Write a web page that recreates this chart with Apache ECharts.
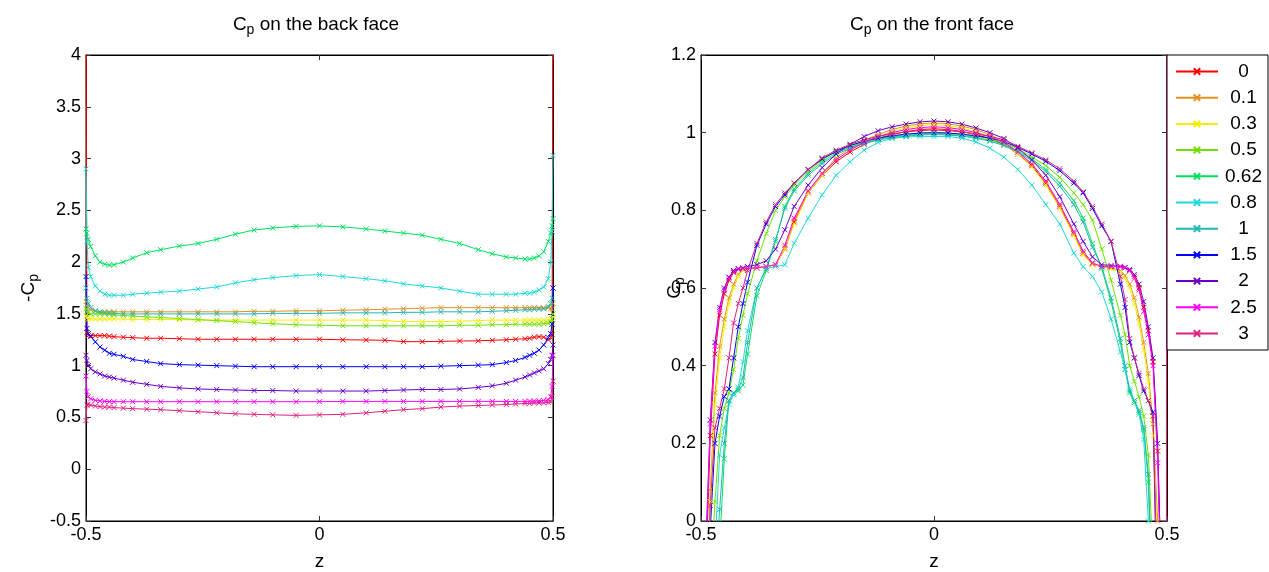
<!DOCTYPE html>
<html><head><meta charset="utf-8">
<script src="https://cdn.jsdelivr.net/npm/echarts@6/dist/echarts.min.js"></script>
<style>html,body{margin:0;padding:0;background:#fff}#c{width:1269px;height:572px}</style>
</head><body><div id="c"></div>
<script>
const names = ['0','0.1','0.3','0.5','0.62','0.8','1','1.5','2','2.5','3'];
const colors = ['#ff0000','#e69020','#f0f000','#70e000','#00e060','#20d8d8','#20b8b8','#0000ff','#6a00c8','#ff00ff','#e0207f'];

// back face: -Cp vs z
const zBack = [-0.5,-0.498,-0.495,-0.49,-0.48,-0.47,-0.46,-0.45,-0.44,-0.42,-0.40,-0.37,-0.34,-0.30,-0.26,-0.22,-0.18,-0.14,-0.10,-0.05,0,0.05,0.10,0.14,0.18,0.22,0.26,0.30,0.34,0.37,0.40,0.42,0.44,0.45,0.46,0.47,0.48,0.49,0.495,0.498,0.5];
const back0 = [4.6,1.32,1.29,1.29,1.29,1.29,1.29,1.285,1.28,1.275,1.27,1.265,1.265,1.26,1.255,1.255,1.255,1.255,1.255,1.255,1.255,1.25,1.248,1.245,1.232,1.232,1.235,1.238,1.24,1.245,1.25,1.255,1.26,1.265,1.275,1.28,1.275,1.25,1.27,1.3,4.6];
const back01 = [1.62,1.58,1.56,1.54,1.53,1.52,1.52,1.52,1.52,1.52,1.52,1.52,1.52,1.52,1.52,1.52,1.52,1.525,1.525,1.53,1.53,1.535,1.54,1.545,1.55,1.555,1.56,1.56,1.56,1.56,1.56,1.56,1.56,1.56,1.56,1.56,1.56,1.56,1.55,1.55,1.6];
const back03 = [1.48,1.46,1.45,1.45,1.45,1.45,1.45,1.45,1.45,1.45,1.445,1.445,1.445,1.445,1.44,1.44,1.44,1.44,1.44,1.44,1.44,1.44,1.44,1.435,1.425,1.425,1.425,1.43,1.435,1.44,1.44,1.44,1.44,1.44,1.44,1.44,1.44,1.44,1.445,1.45,1.47];
const back05 = [1.55,1.52,1.51,1.5,1.5,1.5,1.5,1.495,1.49,1.485,1.48,1.47,1.465,1.455,1.445,1.435,1.425,1.415,1.405,1.395,1.39,1.385,1.385,1.385,1.385,1.385,1.385,1.39,1.39,1.395,1.395,1.4,1.4,1.4,1.4,1.4,1.405,1.41,1.42,1.45,1.5];
const back062 = [2.32,2.28,2.22,2.15,2.06,2.0,1.98,1.97,1.975,2.0,2.04,2.09,2.12,2.155,2.18,2.22,2.27,2.31,2.33,2.345,2.35,2.34,2.32,2.30,2.28,2.26,2.22,2.18,2.12,2.08,2.05,2.04,2.03,2.03,2.04,2.06,2.1,2.2,2.28,2.35,2.42];
const back08 = [2.9,2.2,1.95,1.86,1.77,1.72,1.69,1.68,1.68,1.68,1.69,1.70,1.71,1.72,1.74,1.76,1.80,1.83,1.85,1.87,1.88,1.86,1.84,1.82,1.79,1.77,1.75,1.72,1.69,1.69,1.69,1.69,1.70,1.70,1.71,1.73,1.76,1.84,2.0,2.3,3.03];
const back1 = [1.75,1.65,1.6,1.56,1.53,1.52,1.51,1.51,1.505,1.5,1.5,1.5,1.5,1.5,1.5,1.5,1.5,1.5,1.505,1.505,1.505,1.51,1.51,1.51,1.515,1.515,1.52,1.52,1.52,1.525,1.53,1.535,1.54,1.54,1.545,1.545,1.55,1.57,1.6,1.65,1.75];
const back15 = [1.86,1.36,1.31,1.28,1.23,1.18,1.15,1.12,1.11,1.09,1.06,1.04,1.02,1.01,1.005,1.0,0.995,0.99,0.99,0.99,0.99,0.99,0.99,0.99,0.99,0.99,0.995,1.0,1.005,1.01,1.03,1.05,1.08,1.10,1.12,1.15,1.2,1.27,1.31,1.4,1.75];
const back2 = [1.1,1.05,1.0,0.97,0.94,0.92,0.90,0.89,0.88,0.86,0.84,0.82,0.80,0.785,0.775,0.77,0.765,0.76,0.76,0.755,0.755,0.755,0.755,0.76,0.765,0.77,0.77,0.775,0.79,0.805,0.83,0.86,0.89,0.91,0.93,0.95,0.97,1.02,1.06,1.1,1.2];
const back25 = [0.9,0.75,0.70,0.68,0.665,0.66,0.655,0.652,0.652,0.652,0.652,0.652,0.652,0.652,0.652,0.652,0.652,0.652,0.652,0.652,0.652,0.655,0.655,0.655,0.655,0.655,0.655,0.655,0.655,0.655,0.655,0.655,0.655,0.657,0.66,0.66,0.665,0.67,0.7,0.8,1.1];
const back3 = [0.47,0.62,0.63,0.62,0.61,0.605,0.60,0.60,0.595,0.59,0.585,0.58,0.575,0.565,0.555,0.545,0.535,0.53,0.525,0.52,0.525,0.53,0.545,0.56,0.575,0.585,0.60,0.61,0.615,0.62,0.625,0.63,0.635,0.635,0.64,0.64,0.64,0.645,0.65,0.7,0.85];

// front face: Cp vs z
const zFront = [-0.5,-0.49,-0.48,-0.47,-0.46,-0.45,-0.44,-0.43,-0.42,-0.41,-0.40,-0.38,-0.36,-0.34,-0.32,-0.30,-0.27,-0.24,-0.21,-0.18,-0.15,-0.12,-0.09,-0.06,-0.03,0,0.03,0.06,0.09,0.12,0.15,0.18,0.21,0.24,0.27,0.30,0.32,0.34,0.36,0.38,0.40,0.41,0.42,0.43,0.44,0.45,0.46,0.47,0.48,0.49,0.498,0.5];
const front0 = [-0.6,-0.15,0.22,0.43,0.53,0.585,0.62,0.64,0.648,0.65,0.65,0.652,0.655,0.66,0.70,0.77,0.845,0.89,0.925,0.95,0.97,0.985,0.995,1.003,1.008,1.01,1.008,1.003,0.995,0.985,0.97,0.945,0.915,0.87,0.81,0.74,0.69,0.662,0.655,0.655,0.655,0.652,0.645,0.63,0.60,0.55,0.49,0.41,0.18,-0.25,-0.5,-0.6];
const front01 = [-0.8,-0.3,0.08,0.33,0.45,0.52,0.575,0.61,0.635,0.648,0.65,0.652,0.655,0.66,0.705,0.775,0.85,0.895,0.935,0.96,0.98,0.995,1.008,1.017,1.023,1.025,1.023,1.017,1.008,0.995,0.977,0.95,0.918,0.872,0.812,0.742,0.69,0.662,0.655,0.652,0.645,0.632,0.61,0.575,0.525,0.46,0.38,0.25,0.0,-0.4,-0.6,-0.7];
const front03 = [-0.8,-0.35,0.05,0.3,0.42,0.5,0.56,0.6,0.63,0.645,0.65,0.652,0.655,0.66,0.70,0.765,0.845,0.89,0.93,0.955,0.975,0.99,1.003,1.012,1.018,1.02,1.018,1.012,1.003,0.99,0.972,0.945,0.912,0.865,0.805,0.735,0.685,0.66,0.655,0.65,0.64,0.625,0.60,0.56,0.51,0.44,0.36,0.22,-0.05,-0.4,-0.6,-0.7];
const front05 = [-0.8,-0.5,-0.15,0.05,0.22,0.29,0.33,0.39,0.47,0.53,0.585,0.67,0.74,0.80,0.835,0.865,0.90,0.93,0.952,0.967,0.978,0.986,0.992,0.996,0.999,1.0,0.999,0.996,0.991,0.984,0.974,0.958,0.938,0.915,0.885,0.845,0.815,0.775,0.70,0.62,0.53,0.48,0.40,0.36,0.32,0.27,0.17,-0.1,-0.5,-0.7,-0.8,-0.8];
const front062 = [-0.8,-0.6,-0.4,-0.25,-0.06,0.16,0.31,0.33,0.335,0.35,0.43,0.58,0.645,0.72,0.81,0.855,0.895,0.925,0.948,0.963,0.975,0.983,0.989,0.993,0.996,0.997,0.996,0.993,0.988,0.98,0.97,0.953,0.932,0.905,0.87,0.825,0.78,0.715,0.65,0.565,0.46,0.39,0.33,0.305,0.28,0.235,0.1,-0.3,-0.6,-0.8,-0.8,-0.8];
const front08 = [-0.8,-0.5,-0.25,-0.07,0.17,0.24,0.3,0.325,0.345,0.41,0.49,0.6,0.65,0.655,0.66,0.715,0.78,0.84,0.89,0.925,0.955,0.975,0.985,0.989,0.99,0.99,0.99,0.986,0.976,0.96,0.937,0.905,0.865,0.815,0.765,0.69,0.655,0.63,0.59,0.52,0.435,0.39,0.34,0.31,0.275,0.21,0.0,-0.3,-0.6,-0.8,-0.8,-0.8];
const front1 = [-0.8,-0.6,-0.35,-0.15,0.03,0.2,0.31,0.33,0.34,0.37,0.46,0.6,0.65,0.725,0.805,0.85,0.89,0.92,0.944,0.96,0.972,0.981,0.987,0.991,0.994,0.995,0.994,0.991,0.986,0.978,0.967,0.95,0.928,0.9,0.862,0.815,0.77,0.705,0.655,0.575,0.47,0.4,0.335,0.31,0.285,0.24,0.12,-0.25,-0.6,-0.8,-0.8,-0.8];
const front15 = [-0.8,-0.3,-0.02,0.2,0.27,0.32,0.34,0.42,0.50,0.56,0.615,0.71,0.765,0.81,0.84,0.87,0.905,0.932,0.952,0.967,0.978,0.986,0.992,0.996,0.999,1.0,0.999,0.996,0.992,0.986,0.977,0.962,0.945,0.926,0.902,0.87,0.845,0.805,0.76,0.72,0.61,0.55,0.46,0.42,0.375,0.335,0.31,0.28,-0.3,-0.6,-0.7,-0.8];
const front2 = [-0.6,-0.08,0.26,0.46,0.55,0.60,0.628,0.645,0.65,0.652,0.655,0.66,0.67,0.70,0.75,0.81,0.865,0.91,0.945,0.97,0.99,1.005,1.015,1.022,1.028,1.03,1.028,1.022,1.012,1.0,0.985,0.96,0.93,0.89,0.835,0.765,0.72,0.68,0.66,0.658,0.656,0.653,0.648,0.635,0.61,0.565,0.50,0.42,0.2,-0.25,-0.5,-0.6];
const front25 = [-0.6,-0.1,0.25,0.45,0.545,0.595,0.625,0.642,0.648,0.65,0.65,0.652,0.655,0.66,0.71,0.78,0.85,0.895,0.93,0.955,0.975,0.99,1.0,1.008,1.013,1.015,1.013,1.008,1.0,0.99,0.975,0.95,0.92,0.875,0.815,0.745,0.695,0.665,0.655,0.655,0.655,0.652,0.645,0.625,0.595,0.54,0.48,0.40,0.15,-0.3,-0.5,-0.6];
const front3 = [-0.8,-0.3,0.04,0.24,0.29,0.34,0.42,0.51,0.56,0.60,0.645,0.715,0.77,0.815,0.845,0.87,0.905,0.935,0.955,0.97,0.982,0.99,0.997,1.002,1.005,1.007,1.005,1.002,0.997,0.99,0.982,0.965,0.948,0.93,0.907,0.875,0.848,0.81,0.765,0.72,0.63,0.57,0.47,0.42,0.38,0.34,0.31,0.27,-0.2,-0.6,-3,5];

const yBackTicks = {min:-0.5, max:4, interval:0.5};
const yFrontTicks = {min:0, max:1.2, interval:0.2};
const xTicks = {min:-0.5, max:0.5, interval:0.5};

const backSets = [back0,back01,back03,back05,back062,back08,back1,back15,back2,back25,back3];
const frontSets = [front0,front01,front03,front05,front062,front08,front1,front15,front2,front25,front3];

const FONT = 'Liberation Sans, Arial, sans-serif';
const X_SYMBOL = 'path://M0,0L10,10M10,0L0,10';

function mkSeries(zs, vals, i, xi, yi) {
  return {
    name: names[i], type: 'line', xAxisIndex: xi, yAxisIndex: yi,
    data: zs.map((z, k) => [z, vals[k]]),
    symbol: X_SYMBOL, symbolSize: 5, showSymbol: true, showAllSymbol: true,
    lineStyle: {color: colors[i], width: 1},
    itemStyle: {color: 'rgba(0,0,0,0)', borderColor: colors[i], borderWidth: 1},
    color: colors[i],
    clip: true, animation: false, emphasis: {disabled: true}, silent: true
  };
}
const series = [];
backSets.forEach((v, i) => series.push(mkSeries(zBack, v, i, 0, 0)));
frontSets.forEach((v, i) => series.push(mkSeries(zFront, v, i, 2, 2)));

const tickStyle = {show: true, inside: true, length: 5, lineStyle: {color: '#333'}};
const lbl = {color: '#000', fontSize: 18, fontFamily: FONT, margin: 5};
function xAx(g, top) {
  return Object.assign({gridIndex: g, type: 'value', position: top ? 'top' : 'bottom',
    axisLine: {show: true, onZero: false, lineStyle: {color: '#000', width: 1}},
    axisTick: tickStyle, splitLine: {show: false},
    axisLabel: top ? {show: false} : lbl,
    name: top ? '' : 'z', nameLocation: 'middle', nameGap: 31, nameMoveOverlap: false,
    nameTextStyle: {color: '#000', fontSize: 19, fontFamily: FONT}
  }, xTicks);
}
function yAx(g, right, ticks, nm, gap) {
  return Object.assign({gridIndex: g, type: 'value', position: right ? 'right' : 'left',
    axisLine: {show: true, onZero: false, lineStyle: {color: '#000', width: 1}},
    axisTick: tickStyle, splitLine: {show: false},
    axisLabel: right ? {show: false} : lbl,
    name: right ? '' : nm, nameLocation: 'middle', nameGap: gap, nameRotate: 90, nameMoveOverlap: false,
    nameTextStyle: {color: '#000', fontSize: 19, fontFamily: FONT,
      rich: {a: {fontSize: 19, fontFamily: FONT, color: '#000', verticalAlign: 'top', lineHeight: 22},
             b: {fontSize: 14, fontFamily: FONT, color: '#000', verticalAlign: 'bottom', lineHeight: 14, padding: [13,0,0,0]}}}
  }, ticks);
}
const titleRich = {
  a: {fontSize: 19, fontFamily: FONT, fontWeight: 'normal', color: '#000', verticalAlign: 'top', lineHeight: 22},
  b: {fontSize: 14, fontFamily: FONT, fontWeight: 'normal', color: '#000', verticalAlign: 'bottom', lineHeight: 14, padding: [12,0,0,0]}
};

const option = {
  animation: false,
  backgroundColor: '#fff',
  title: [
    {text: '{a|C}{b|p}{a| on the back face}', left: 311, top: 10, textAlign: 'center', textStyle: {fontWeight: 'normal', rich: titleRich}},
    {text: '{a|C}{b|p}{a| on the front face}', left: 927, top: 10, textAlign: 'center', textStyle: {fontWeight: 'normal', rich: titleRich}}
  ],
  grid: [
    {left: 86, top: 55, width: 467, height: 466, show: true, borderColor: '#000', borderWidth: 1, backgroundColor: '#fff', outerBoundsMode: 'none', containLabel: false},
    {left: 701, top: 55, width: 466, height: 466, show: true, borderColor: '#000', borderWidth: 1, backgroundColor: '#fff', outerBoundsMode: 'none', containLabel: false}
  ],
  xAxis: [xAx(0, false), xAx(0, true), xAx(1, false), xAx(1, true)],
  yAxis: [
    yAx(0, false, yBackTicks, '{a|-C}{b|p}', 45), yAx(0, true, yBackTicks, '', 0),
    yAx(1, false, yFrontTicks, '{a|C}{b|p}', 14), yAx(1, true, yFrontTicks, '', 0)
  ],
  legend: {
    orient: 'vertical', left: 1167, top: 55, padding: [7, 4, 7, 8],
    backgroundColor: '#fff', borderColor: '#000', borderWidth: 1,
    itemWidth: 42, itemHeight: 8, itemGap: 7.2, selectedMode: false,
    data: names,
    formatter: n => '{c|' + n + '}',
    textStyle: {rich: {c: {width: 41, align: 'center', fontSize: 19, lineHeight: 19, fontFamily: FONT, color: '#000'}}}
  },
  series: series
};
const chart = echarts.init(document.getElementById('c'), null, {renderer: 'canvas'});
chart.setOption(option);
</script></body></html>
